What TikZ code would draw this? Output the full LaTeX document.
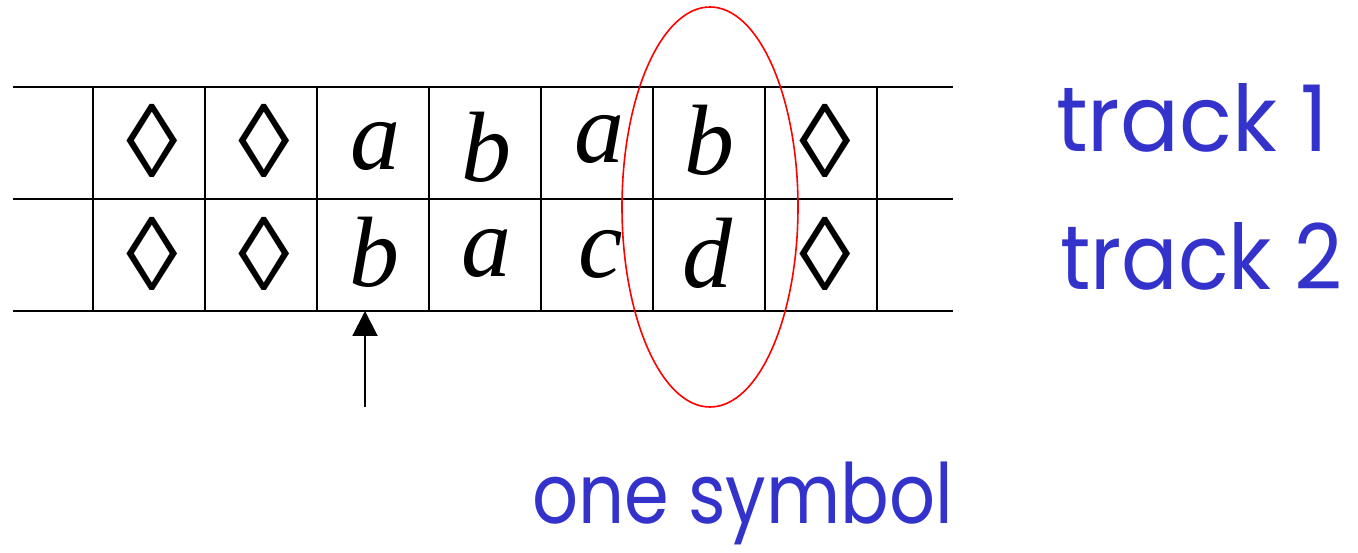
\documentclass[tikz,border=0pt]{standalone}
\usepackage{fontspec}
\usepackage{graphicx}
\setmainfont{Liberation Serif}
\newfontfamily\lblfont{Poppins}
\usetikzlibrary{shapes.geometric,arrows.meta}
\definecolor{lblue}{HTML}{3333CC}
\definecolor{ovalred}{HTML}{FF0000}
\tikzset{
  gridline/.style={line width=1.8pt, black},
  letter/.style={inner sep=0pt, anchor=base, font=\fontsize{100}{100}\selectfont\itshape},
  lozenge/.style={inner sep=0pt, anchor=center, font=\fontsize{104}{104}\selectfont},
  tracklabel/.style={inner sep=0pt, anchor=base west, text=lblue},
  headarrow/.style={line width=2pt, -{Triangle[length=25pt,width=25pt]}},
}
\begin{document}
\begin{tikzpicture}[x=1pt,y=-1pt]
\useasboundingbox (0,0) rectangle (1358,553);
% tape grid
\foreach \y in {87,199,311} \draw[gridline] (13,\y) -- (953,\y);
\foreach \x in {93,205,317,429,541,653,765,877} \draw[gridline] (\x,87) -- (\x,311);
% track 1
\node[lozenge] (t1c1) at (152,141) {◊};
\node[lozenge] (t1c2) at (264,141) {◊};
\node[letter] (t1c3) at (375,170) {a};
\node[letter] (t1c4) at (486,182) {b};
\node[letter] (t1c5) at (599,163) {a};
\node[letter] (t1c6) at (709,175) {b};
\node[lozenge] (t1c7) at (825,141) {◊};
% track 2
\node[lozenge] (t2c1) at (152,254) {◊};
\node[lozenge] (t2c2) at (264,254) {◊};
\node[letter] (t2c3) at (374,287) {b};
\node[letter] (t2c4) at (486,277) {a};
\node[letter] (t2c5) at (601,278) {c};
\node[letter] (t2c6) at (707,288) {d};
\node[lozenge] (t2c7) at (825,254) {◊};
% head arrow
\coordinate (headtail) at (365,407);
\coordinate (headtip) at (365,311);
\draw[headarrow] (headtail) -- (headtip);
% one symbol oval
\node[draw=ovalred, line width=1.6pt, ellipse, minimum width=176pt, minimum height=400pt, inner sep=0pt] (oval) at (710,207) {};
% labels
\node[tracklabel] (lab1) at (1056,152) {\resizebox{272pt}{68pt}{\lblfont track 1}};
\node[tracklabel] (lab2) at (1060,290) {\resizebox{282pt}{67pt}{\lblfont track 2}};
\node[tracklabel, anchor=south west] (lab3) at (532,545) {\resizebox*{421pt}{83pt}{\lblfont one symbol}};
\end{tikzpicture}
\end{document}
